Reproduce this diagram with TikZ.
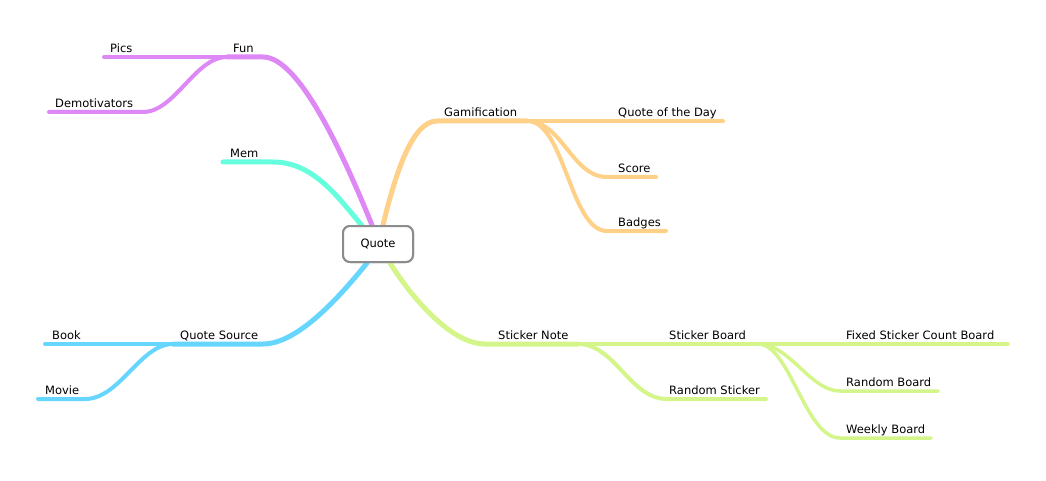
\documentclass[tikz,border=0pt]{standalone}
\usepackage{fontspec}
\setmainfont{DejaVu Sans}
\definecolor{funcol}{RGB}{221,136,245}
\definecolor{memcol}{RGB}{102,255,221}
\definecolor{gamecol}{RGB}{255,208,136}
\definecolor{srccol}{RGB}{102,214,255}
\definecolor{stickcol}{RGB}{212,245,138}
\tikzset{
  trunk/.style={line width=5pt,line cap=round},
  twig/.style={line width=4pt,line cap=round},
  leaf/.style={line width=3.5pt,line cap=round},
  lbl/.style={anchor=base west,inner sep=0pt,font=\fontsize{11.5}{13}\selectfont},
  centre/.style={draw=black!45,line width=2pt,fill=white,rounded corners=7pt,minimum width=70pt,minimum height=36pt,font=\fontsize{11.5}{13}\selectfont}
}
\begin{document}
\begin{tikzpicture}[x=1pt,y=-1pt]
\useasboundingbox (0,0) rectangle (1046,481);
% central topic
\node[centre] (quote) at (378,244) {};
% branch points and line ends
\coordinate (fun) at (263,57);  \coordinate (funsplit) at (227,57);  \coordinate (pics) at (104,57);
\coordinate (demobend) at (143,112);  \coordinate (demo) at (49,112);
\coordinate (membend) at (273,162);  \coordinate (mem) at (223,162);
\coordinate (game) at (437,121);  \coordinate (gamesplit) at (527,121);  \coordinate (qotd) at (723,121);
\coordinate (scorebend) at (607,177);  \coordinate (score) at (656,177);
\coordinate (badgebend) at (607,231);  \coordinate (badge) at (666,231);
\coordinate (src) at (263,344);  \coordinate (srcsplit) at (173,344);  \coordinate (book) at (45,344);
\coordinate (moviebend) at (85,399);  \coordinate (movie) at (38,399);
\coordinate (note) at (485,344);  \coordinate (notesplit) at (578,344);  \coordinate (boardsplit) at (758,344);  \coordinate (fixed) at (1008,344);
\coordinate (rstbend) at (667,399);  \coordinate (rst) at (766,399);
\coordinate (rbdbend) at (840,391);  \coordinate (rbd) at (938,391);
\coordinate (wbdbend) at (840,438);  \coordinate (wbd) at (931,438);
% Fun
\draw[trunk,funcol] ([xshift=-6pt]quote.north) .. controls +(-27,-66) and +(37,0) .. (fun) -- (funsplit);
\draw[twig,funcol] (funsplit) -- (pics);
\draw[twig,funcol] (funsplit) .. controls +(-32,0) and +(32,0) .. (demobend) -- (demo);
% Mem
\draw[trunk,memcol] ([xshift=-15pt,yshift=-2pt]quote.north) .. controls +(-25,-30) and +(40,0) .. (membend) -- (mem);
% Gamification
\draw[trunk,gamecol] ([xshift=5pt]quote.north) .. controls +(12,-50) and +(-25,0) .. (game) -- (gamesplit);
\draw[twig,gamecol] (gamesplit) -- (qotd);
\draw[twig,gamecol] (gamesplit) .. controls +(35,0) and +(-35,0) .. (scorebend) -- (score);
\draw[twig,gamecol] (gamesplit) .. controls +(38,0) and +(-37,0) .. (badgebend) -- (badge);
% Quote Source
\draw[trunk,srccol] ([xshift=-11pt]quote.south) .. controls +(-22,27) and +(37,0) .. (src) -- (srcsplit);
\draw[twig,srccol] (srcsplit) -- (book);
\draw[twig,srccol] (srcsplit) .. controls +(-33,0) and +(35,0) .. (moviebend) -- (movie);
% Sticker Note
\draw[trunk,stickcol] ([xshift=12pt]quote.south) .. controls +(20,32) and +(-35,0) .. (note) -- (notesplit);
\draw[twig,stickcol] (notesplit) -- (boardsplit);
\draw[twig,stickcol] (notesplit) .. controls +(37,0) and +(-37,0) .. (rstbend) -- (rst);
\draw[leaf,stickcol] (boardsplit) -- (fixed);
\draw[leaf,stickcol] (boardsplit) .. controls +(32,0) and +(-30,0) .. (rbdbend) -- (rbd);
\draw[leaf,stickcol] (boardsplit) .. controls +(32,0) and +(-35,0) .. (wbdbend) -- (wbd);
% central box on top
\node[centre] (quotebox) at (quote) {Quote};
% labels
\node[lbl] (l-pics) at (110,52.5) {Pics};
\node[lbl] (l-fun) at (233,52.5) {Fun};
\node[lbl] (l-demo) at (55,107.5) {Demotivators};
\node[lbl] (l-mem) at (230,157.5) {Mem};
\node[lbl] (l-game) at (444,116.5) {Gamification};
\node[lbl] (l-qotd) at (618,116.5) {Quote of the Day};
\node[lbl] (l-score) at (618,172.5) {Score};
\node[lbl] (l-badge) at (618,226.5) {Badges};
\node[lbl] (l-book) at (52,339.5) {Book};
\node[lbl] (l-src) at (180,339.5) {Quote Source};
\node[lbl] (l-movie) at (45,394.5) {Movie};
\node[lbl] (l-note) at (498,339.5) {Sticker Note};
\node[lbl] (l-board) at (669,339.5) {Sticker Board};
\node[lbl] (l-fixed) at (846,339.5) {Fixed Sticker Count Board};
\node[lbl] (l-rst) at (669,394.5) {Random Sticker};
\node[lbl] (l-rbd) at (846,386.5) {Random Board};
\node[lbl] (l-wbd) at (846,433.5) {Weekly Board};
\end{tikzpicture}
\end{document}
